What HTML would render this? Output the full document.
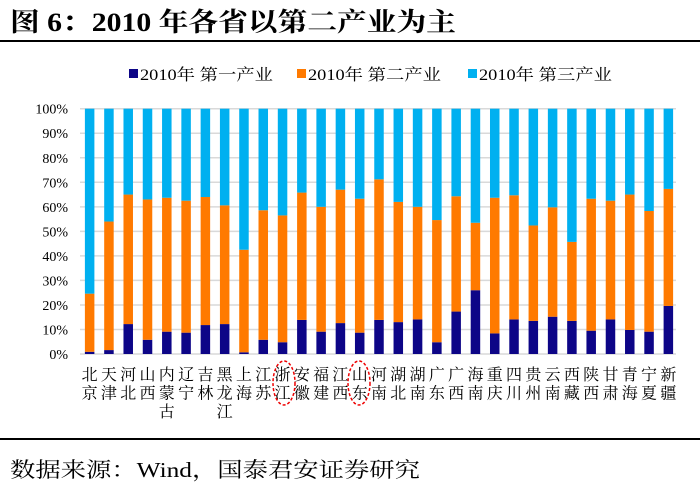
<!DOCTYPE html>
<html><head><meta charset="utf-8"><style>
body{margin:0;background:#fff;}
svg{display:block;font-family:"Liberation Serif","Noto Serif CJK SC",serif;}
</style></head><body>
<svg id="c" width="700" height="493">
<text x="10" y="31" font-size="26" font-weight="bold" textLength="446" lengthAdjust="spacingAndGlyphs">图 6：2010 年各省以第二产业为主</text>
<rect x="0" y="40" width="700" height="2" fill="#000"/>
<g>
<g><rect x="129" y="69" width="9" height="9" fill="#0d0587"/><text x="140" y="80" font-size="16" textLength="133" lengthAdjust="spacingAndGlyphs">2010年 第一产业</text></g>
<g><rect x="297" y="69" width="9" height="9" fill="#ff7a00"/><text x="308" y="80" font-size="16" textLength="133" lengthAdjust="spacingAndGlyphs">2010年 第二产业</text></g>
<g><rect x="468" y="69" width="9" height="9" fill="#00b0f0"/><text x="479" y="80" font-size="16" textLength="133" lengthAdjust="spacingAndGlyphs">2010年 第三产业</text></g>
</g>
<g id="grid"></g><g id="bars"></g><g id="xl"></g>
<ellipse cx="284" cy="383" rx="11" ry="22" fill="none" stroke="#e00" stroke-width="1.5" stroke-dasharray="3,2"/>
<ellipse cx="359" cy="383" rx="11" ry="22" fill="none" stroke="#e00" stroke-width="1.5" stroke-dasharray="3,2"/>
<rect x="0" y="438" width="700" height="2" fill="#000"/>
<text x="10" y="477" font-size="21" textLength="410" lengthAdjust="spacingAndGlyphs">数据来源：Wind，国泰君安证券研究</text>
</svg>
<script>
const provinces=[["北","京"],["天","津"],["河","北"],["山","西"],["内","蒙","古"],["辽","宁"],["吉","林"],["黑","龙","江"],["上","海"],["江","苏"],["浙","江"],["安","徽"],["福","建"],["江","西"],["山","东"],["河","南"],["湖","北"],["湖","南"],["广","东"],["广","西"],["海","南"],["重","庆"],["四","川"],["贵","州"],["云","南"],["西","藏"],["陕","西"],["甘","肃"],["青","海"],["宁","夏"],["新","疆"]];
const primary=[0.9,1.6,12.2,5.8,9.1,8.7,11.8,12.2,0.7,5.8,4.8,13.9,9.1,12.6,8.7,13.9,13.0,14.1,4.8,17.3,26.0,8.4,14.1,13.5,15.2,13.5,9.5,14.1,9.8,9.1,19.6];
const secondary=[23.7,52.4,52.8,57.2,54.6,53.8,52.2,48.4,41.8,52.8,51.7,51.9,50.9,54.4,54.6,57.3,49.0,45.9,49.8,47.0,27.5,55.3,50.6,38.9,44.6,32.2,53.8,48.4,55.2,49.2,47.7];
const tertiary=primary.map((p,i)=>100-p-secondary[i]);
const yTicks=[0,10,20,30,40,50,60,70,80,90,100];
const NS="http://www.w3.org/2000/svg";
const L=80,R=678,T=108.7,B=354;
const y=v=>B-(B-T)*v/100;
const step=(R-L)/provinces.length;
const x=i=>L+step*(i+0.5);
function mk(tag,attrs,parent){const e=document.createElementNS(NS,tag);for(const k in attrs)e.setAttribute(k,attrs[k]);parent.appendChild(e);return e;}
const grid=document.getElementById('grid'),bars=document.getElementById('bars'),xl=document.getElementById('xl');
yTicks.forEach(t=>{
 const l=mk('line',{x1:L,x2:R-2,y1:y(t),y2:y(t),stroke:'#d9d9d9','stroke-width':1.5},grid);
 
 
 const tx=mk('text',{x:68,y:y(t)+5,'font-size':14,'text-anchor':'end'},grid);
 tx.textContent=t+'%';
 
 
});
const series=[[primary,'#0d0587','primary'],[secondary,'#ff7a00','secondary'],[tertiary,'#00b0f0','tertiary']];
const bw=9.5;
provinces.forEach((p,i)=>{
 let base=0;
 series.forEach(([arr,col,nm])=>{
  const v=arr[i];
  const r=mk('rect',{x:x(i)-bw/2,y:y(base+v),width:bw,height:y(base)-y(base+v),fill:col},bars);
  
  
  base+=v;
 });
 p.forEach((ch,j)=>{
  const t=mk('text',{x:x(i),y:380+j*18.5,'font-size':16,'text-anchor':'middle'},xl);
  t.textContent=ch;
  
  
 });
});
</script>
</body></html>
